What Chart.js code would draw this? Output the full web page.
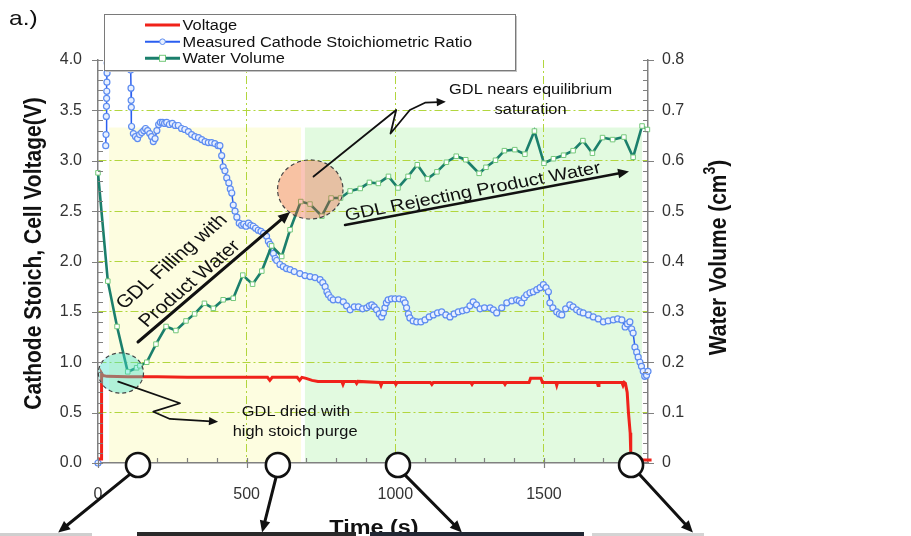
<!DOCTYPE html>
<html><head><meta charset="utf-8">
<style>html,body{margin:0;padding:0;background:#fff;overflow:hidden}#wrap{width:911px;height:536px;position:relative}canvas{display:block}</style>
<script src="https://cdn.jsdelivr.net/npm/chart.js@4.4.1/dist/chart.umd.min.js"></script>
</head><body><div id="wrap"><canvas id="c" width="911" height="536"></canvas></div>
<script>
// ---------------- data ----------------
const seriesNames = ['Voltage', 'Measured Cathode Stoichiometric Ratio', 'Water Volume'];

const voltageTime = [0, 11, 12, 16, 30, 100, 200, 300, 400, 500, 570, 578, 586, 670, 678, 686, 700, 720, 740,
  820, 824, 828, 866, 870, 874, 948, 952, 956, 998, 1002, 1006, 1118, 1123, 1128, 1254, 1258, 1262,
  1365, 1369, 1373, 1450, 1455, 1490, 1495, 1540, 1543, 1546, 1679, 1682, 1685, 1762, 1766, 1770,
  1774, 1780, 1784, 1790, 1792, 1794, 1862];
const voltageValues = [0.04, 0.04, 0.89, 0.87, 0.86, 0.855, 0.855, 0.85, 0.85, 0.85, 0.85, 0.82, 0.85, 0.85, 0.82, 0.85, 0.84, 0.82, 0.81,
  0.81, 0.78, 0.81, 0.81, 0.79, 0.81, 0.80, 0.77, 0.80, 0.80, 0.78, 0.80, 0.80, 0.78, 0.80, 0.80, 0.78, 0.80,
  0.80, 0.78, 0.80, 0.80, 0.84, 0.84, 0.80, 0.80, 0.77, 0.80, 0.80, 0.77, 0.80, 0.80, 0.77, 0.80,
  0.79, 0.70, 0.51, 0.30, 0.10, 0.03, 0.03];

const stoichTime = [0, 13, 26, 27, 28, 28.5, 29, 29.5, 30, 30.5, 31, 36, 60, 90, 108, 110, 111, 111.5, 112, 113,
  119, 126, 133, 140, 147, 154, 160, 167, 174, 180, 186, 192, 198, 204, 210, 217, 224, 231, 240, 250,
  260, 270, 281, 292, 304, 315, 326, 338, 349, 360, 371, 382, 393, 404, 410, 416, 421, 427, 433, 440,
  445, 450, 455, 461, 467, 475, 483, 490, 498, 506, 514, 522, 530, 539, 548, 557, 567, 573, 579, 585,
  590, 596, 601, 612, 623, 634, 646, 660, 679, 696, 713, 730, 747, 756, 764, 770, 775, 783, 791, 808,
  825, 836, 848, 862, 876, 890, 904, 913, 921, 929, 937, 946, 954, 960, 965, 970, 976, 987, 999, 1013,
  1027, 1033, 1038, 1044, 1049, 1060, 1072, 1086, 1100, 1114, 1128, 1142, 1156, 1170, 1184, 1198, 1212, 1226, 1240, 1251,
  1262, 1273, 1285, 1300, 1319, 1330, 1341, 1358, 1375, 1392, 1408, 1417, 1425, 1434, 1442, 1453, 1464, 1476, 1487, 1498,
  1507, 1515, 1520, 1530, 1543, 1552, 1560, 1573, 1587, 1598, 1610, 1621, 1632, 1650, 1666, 1683, 1700, 1716, 1733, 1748,
  1762, 1773, 1781, 1789, 1795, 1800, 1806, 1812, 1817, 1823, 1828, 1834, 1839, 1845, 1850];
const stoichValues = [0.0, null, 3.15, 3.26, 3.44, 3.54, 3.62, 3.69, 3.78, 3.87, 3.97, 4.6, 5.2, 4.9, 4.4, 3.90, 3.72, 3.60, 3.53, 3.34,
  3.27, 3.24, 3.22, 3.26, 3.28, 3.30, 3.32, 3.30, 3.27, 3.24, 3.19, 3.22, 3.30, 3.36, 3.38, 3.38, 3.37, 3.38, 3.36, 3.37,
  3.35, 3.35, 3.32, 3.31, 3.29, 3.26, 3.24, 3.23, 3.21, 3.19, 3.18, 3.18, 3.17, 3.15, 3.15, 3.05, 2.94, 2.90, 2.83, 2.78,
  2.72, 2.68, 2.56, 2.50, 2.44, 2.38, 2.36, 2.37, 2.35, 2.38, 2.36, 2.35, 2.33, 2.31, 2.30, 2.28, 2.25, 2.20, 2.17, 2.10,
  2.08, 2.03, 2.01, 1.97, 1.95, 1.93, 1.92, 1.90, 1.88, 1.86, 1.85, 1.84, 1.82, 1.79, 1.75, 1.70, 1.67, 1.64, 1.62, 1.62,
  1.60, 1.56, 1.52, 1.55, 1.55, 1.53, 1.54, 1.56, 1.57, 1.55, 1.52, 1.48, 1.45, 1.49, 1.54, 1.59, 1.62, 1.63, 1.63, 1.63,
  1.62, 1.59, 1.54, 1.48, 1.44, 1.41, 1.40, 1.40, 1.42, 1.45, 1.47, 1.49, 1.50, 1.47, 1.45, 1.48, 1.50, 1.51, 1.52, 1.56,
  1.60, 1.57, 1.53, 1.54, 1.54, 1.52, 1.49, 1.54, 1.59, 1.61, 1.62, 1.61, 1.59, 1.64, 1.67, 1.69, 1.70, 1.72, 1.74, 1.77,
  1.74, 1.70, 1.59, 1.54, 1.50, 1.48, 1.47, 1.53, 1.57, 1.55, 1.52, 1.50, 1.49, 1.47, 1.45, 1.43, 1.40, 1.41, 1.42, 1.43,
  1.42, 1.35, 1.38, 1.40, 1.33, 1.29, 1.15, 1.10, 1.05, 1.00, 0.96, 0.91, 0.86, 0.87, 0.91];

const waterTime = [0, 33, 64, 100, 130, 141, 164, 195, 229, 262, 296, 325, 358, 388, 421, 455, 487, 520, 551, 584,
  618, 646, 682, 713, 753, 784, 816, 848, 882, 913, 943, 977, 1009, 1043, 1074, 1108, 1140, 1172, 1205, 1237,
  1282, 1305, 1337, 1367, 1402, 1436, 1468, 1500, 1532, 1566, 1598, 1631, 1663, 1697, 1731, 1769, 1800, 1830, 1848];
const waterValues = [0.576, 0.361, 0.271, 0.181, 0.189, 0.193, 0.200, 0.236, 0.271, 0.263, 0.282, 0.296, 0.317, 0.307, 0.324, 0.327, 0.373, 0.355, 0.381, 0.431,
  0.410, 0.463, 0.519, 0.514, 0.490, 0.526, 0.526, 0.540, 0.545, 0.557, 0.555, 0.569, 0.546, 0.569, 0.592, 0.564, 0.578, 0.597, 0.609, 0.602,
  0.575, 0.587, 0.601, 0.620, 0.622, 0.613, 0.659, 0.595, 0.604, 0.611, 0.620, 0.640, 0.615, 0.646, 0.642, 0.647, 0.607, 0.669, 0.662];

const xTickValues = [0, 500, 1000, 1500];
const xTickLabels = ['0', '500', '1000', '1500'];
const leftTickValues = [0, 0.5, 1, 1.5, 2, 2.5, 3, 3.5, 4];
const leftTickLabels = ['0.0', '0.5', '1.0', '1.5', '2.0', '2.5', '3.0', '3.5', '4.0'];
const rightTickValues = [0, 0.1, 0.2, 0.3, 0.4, 0.5, 0.6, 0.7, 0.8];
const rightTickLabels = ['0', '0.1', '0.2', '0.3', '0.4', '0.5', '0.6', '0.7', '0.8'];

// phase bands (time in s, top in left-axis units)
const phaseStart = [37, 696];
const phaseEnd = [683, 1830];
const phaseTop = 3.33;

// ---------------- styles ----------------
const FONT = "'Liberation Sans', Arial, sans-serif";
const SX = 1.17;   // horizontal stretch of the reference picture
const GRID = 'rgb(178,214,62)';
const AXIS = '#808080';

const zip = (xs, ys) => xs.map((x, i) => ({ x: x, y: ys[i] }));

function stext(ctx, s, x, y, font, align, rot, color, base) {
  ctx.save();
  ctx.translate(x, y);
  ctx.scale(SX, 1);
  ctx.rotate(rot || 0);
  ctx.font = font;
  ctx.fillStyle = color || '#111';
  ctx.textAlign = align || 'center';
  ctx.textBaseline = base || 'middle';
  ctx.fillText(s, 0, 0);
  ctx.restore();
}
function arrow(ctx, pts, w, head) {
  ctx.save();
  ctx.strokeStyle = '#111'; ctx.fillStyle = '#111';
  ctx.lineWidth = w; ctx.lineJoin = 'round'; ctx.lineCap = 'round';
  const n = pts.length;
  const [x2, y2] = pts[n - 1], [x1, y1] = pts[n - 2];
  const a = Math.atan2(y2 - y1, x2 - x1);
  ctx.beginPath();
  ctx.moveTo(pts[0][0], pts[0][1]);
  for (let i = 1; i < n - 1; i++) ctx.lineTo(pts[i][0], pts[i][1]);
  ctx.lineTo(x2 - Math.cos(a) * head * 0.7, y2 - Math.sin(a) * head * 0.7);
  ctx.stroke();
  ctx.beginPath();
  ctx.moveTo(x2, y2);
  ctx.lineTo(x2 - head * Math.cos(a - 0.42), y2 - head * Math.sin(a - 0.42));
  ctx.lineTo(x2 - head * Math.cos(a + 0.42), y2 - head * Math.sin(a + 0.42));
  ctx.closePath(); ctx.fill();
  ctx.restore();
}

// annotation anchors in data units (time s, left-axis value)
const ellipseCyan = { t: 77, v: 0.893, rt: 76, rv: 0.20 };
const ellipseSalmon = { t: 714, v: 2.715, rt: 110, rv: 0.293 };
const fillArrow = [[134.5, 1.201], [646, 2.491]];
const rejectArrow = [[831, 2.362], [1786, 2.893]];
const nearsZig = [[725, 2.843], [1003, 3.504], [984, 3.270], [1049, 3.504], [1100, 3.576], [1170, 3.586]];
const driedZig = [[68, 0.807], [276, 0.593], [186, 0.509], [242, 0.437], [404, 0.410]];
const bottomCircles = [134.5, 605, 1009, 1793];
const bottomArrows = [[[108, -0.11], [-134, -0.69]], [[599, -0.14], [552, -0.69]], [[1033, -0.12], [1224, -0.69]], [[1820, -0.11], [2001, -0.69]]];

const backgroundPlugin = {
  id: 'bands',
  beforeDraw(chart) {
    const { ctx, chartArea: ca } = chart;
    const x = chart.scales.x, y = chart.scales.y;
    const cols = ['rgb(253,253,224)', 'rgb(226,250,224)'];
    ctx.save();
    for (let i = 0; i < phaseStart.length; i++) {
      const x0 = x.getPixelForValue(phaseStart[i]), x1 = x.getPixelForValue(phaseEnd[i]);
      const y0 = y.getPixelForValue(phaseTop);
      ctx.fillStyle = cols[i];
      ctx.fillRect(x0, y0, x1 - x0, ca.bottom - y0);
    }
    ctx.restore();
  }
};

const overlayPlugin = {
  id: 'overlay',
  afterDatasetsDraw(chart) {
    const { ctx } = chart;
    const X = v => chart.scales.x.getPixelForValue(v), Y = v => chart.scales.y.getPixelForValue(v);
    const ell = (e, fill) => {
      const cx = X(e.t), cy = Y(e.v);
      const rx = X(e.t + e.rt) - cx, ry = cy - Y(e.v + e.rv);
      ctx.save();
      ctx.beginPath(); ctx.ellipse(cx, cy, rx, ry, 0, 0, Math.PI * 2);
      ctx.fillStyle = fill; ctx.fill();
      ctx.setLineDash([4, 3]); ctx.strokeStyle = '#444'; ctx.lineWidth = 1.2; ctx.stroke();
      ctx.restore();
    };
    ell(ellipseCyan, 'rgba(70,225,205,0.42)');
    ell(ellipseSalmon, 'rgba(240,70,35,0.32)');
  },
  afterDraw(chart) {
    const { ctx, chartArea: ca } = chart;
    const xs = chart.scales.x, ys = chart.scales.y, y2 = chart.scales.y2;
    const X = v => xs.getPixelForValue(v), Y = v => ys.getPixelForValue(v);
    const P = p => [X(p[0]), Y(p[1])];

    // tick marks
    ctx.save();
    ctx.strokeStyle = AXIS; ctx.lineWidth = 1.2;
    ctx.beginPath();
    for (let t = 0; t <= xs.max + 1e-6; t += 100) {
      const px = Math.round(X(t)) + 0.5;
      const major = t % 500 === 0;
      ctx.moveTo(px, ca.bottom + (major ? 5 : 0)); ctx.lineTo(px, ca.bottom - 5);
    }
    for (let k = 0; k <= 40; k++) {
      const py = Math.round(Y(k / 10)) + 0.5;
      const major = k % 5 === 0;
      ctx.moveTo(ca.left - (major ? 6 : 0), py); ctx.lineTo(ca.left + 5, py);
    }
    for (let k = 0; k <= 40; k++) {
      const py = Math.round(y2.getPixelForValue(k * 0.02)) + 0.5;
      const major = k % 5 === 0;
      ctx.moveTo(ca.right + (major ? 6 : 0), py); ctx.lineTo(ca.right - 5, py);
    }
    ctx.stroke();
    ctx.restore();

    // axis titles
    stext(ctx, 'Cathode Stoich, Cell Voltage(V)', 34, (ca.top + ca.bottom) / 2 - 8, 'bold 21px ' + FONT, 'center', -Math.PI / 2, '#111');
    // right title with superscript
    ctx.save();
    ctx.translate(719, (ca.top + ca.bottom) / 2 - 4);
    ctx.scale(SX, 1);
    ctx.rotate(-Math.PI / 2);
    ctx.fillStyle = '#111';
    ctx.textBaseline = 'middle';
    ctx.textAlign = 'left';
    const mainF = 'bold 21px ' + FONT, supF = 'bold 14px ' + FONT;
    ctx.font = mainF; const w1 = ctx.measureText('Water Volume (cm').width, w3 = ctx.measureText(')').width;
    ctx.font = supF; const w2 = ctx.measureText('3').width;
    let sx = -(w1 + w2 + w3) / 2;
    ctx.font = mainF; ctx.fillText('Water Volume (cm', sx, 0); sx += w1;
    ctx.font = supF; ctx.fillText('3', sx, -7); sx += w2;
    ctx.font = mainF; ctx.fillText(')', sx, 0);
    ctx.restore();
    stext(ctx, 'Time (s)', 374, 534, 'bold 20px ' + FONT, 'center', 0, '#111', 'alphabetic');
    stext(ctx, 'a.)', 9, 25, '21px ' + FONT, 'left', 0, '#111', 'alphabetic');

    // arrows and labels
    arrow(ctx, fillArrow.map(P), 3, 13);
    arrow(ctx, rejectArrow.map(P), 2.6, 12);
    arrow(ctx, nearsZig.map(P), 1.8, 10);
    arrow(ctx, driedZig.map(P), 1.8, 10);

    const aFill = -Math.atan(Math.tan(40.5 * Math.PI / 180) * SX);
    const aRej = -Math.atan(Math.tan(10.7 * Math.PI / 180) * SX);
    let p = P([249, 1.995]); stext(ctx, 'GDL Filling with', p[0], p[1], '18px ' + FONT, 'center', aFill, '#111');
    p = P([309, 1.777]); stext(ctx, 'Product Water', p[0], p[1], '18px ' + FONT, 'center', aFill, '#111');
    p = P([1261, 2.69]); stext(ctx, 'GDL Rejecting Product Water', p[0], p[1], '17px ' + FONT, 'center', aRej, '#111');
    p = P([1455, 3.698]); stext(ctx, 'GDL nears equilibrium', p[0], p[1], '14px ' + FONT, 'center', 0, '#111');
    p = P([1455, 3.504]); stext(ctx, 'saturation', p[0], p[1], '14px ' + FONT, 'center', 0, '#111');
    p = P([666, 0.509]); stext(ctx, 'GDL dried with', p[0], p[1], '14px ' + FONT, 'center', 0, '#111');
    p = P([663, 0.311]); stext(ctx, 'high stoich purge', p[0], p[1], '14px ' + FONT, 'center', 0, '#111');

    // bottom markers
    bottomArrows.forEach(a => arrow(ctx, a.map(P), 3, 13));
    bottomCircles.forEach(t => {
      ctx.save();
      ctx.beginPath(); ctx.arc(X(t), Y(-0.02), 12, 0, Math.PI * 2);
      ctx.fillStyle = '#fff'; ctx.fill();
      ctx.lineWidth = 2.6; ctx.strokeStyle = '#111'; ctx.stroke();
      ctx.restore();
    });
    ctx.save();
    ctx.fillStyle = '#cfcfcf'; ctx.fillRect(0, 533, 92, 3);
    ctx.fillStyle = '#2a2a2a'; ctx.fillRect(137, 532, 219, 4);
    ctx.fillStyle = '#222834'; ctx.fillRect(370, 532, 214, 4);
    ctx.fillStyle = '#d4d4d4'; ctx.fillRect(592, 533, 112, 3);
    ctx.restore();

    // legend
    const ds = chart.data.datasets;
    ctx.save();
    ctx.fillStyle = '#c4c4c4'; ctx.fillRect(106, 16, 411, 56);
    ctx.fillStyle = '#fff'; ctx.fillRect(104.5, 14.5, 411, 56);
    ctx.strokeStyle = '#7a7a7a'; ctx.lineWidth = 1; ctx.strokeRect(104.5, 14.5, 411, 56);
    const rows = [25, 41.7, 58.3];
    ds.forEach((d, i) => {
      const yy = rows[i];
      ctx.strokeStyle = d.borderColor; ctx.lineWidth = i === 1 ? 2 : 3;
      ctx.beginPath(); ctx.moveTo(145, yy); ctx.lineTo(180, yy); ctx.stroke();
      if (i === 1) {
        ctx.beginPath(); ctx.arc(162.5, yy, 2.8, 0, Math.PI * 2);
        ctx.fillStyle = d.pointBackgroundColor; ctx.fill();
        ctx.lineWidth = 1; ctx.strokeStyle = d.pointBorderColor; ctx.stroke();
      } else if (i === 2) {
        ctx.fillStyle = '#fff'; ctx.fillRect(159.5, yy - 3, 6, 6);
        ctx.lineWidth = 1; ctx.strokeStyle = d.pointBorderColor; ctx.strokeRect(159.5, yy - 3, 6, 6);
      }
      stext(ctx, d.label, 182.5, yy + 1, '14px ' + FONT, 'left', 0, '#111');
    });
    ctx.restore();
  }
};

const clip = { left: 8, right: 8, top: 0, bottom: 8 };
const fixTicks = vals => s => { s.ticks = vals.map(v => ({ value: v })); };

new Chart(document.getElementById('c'), {
  type: 'line',
  data: {
    datasets: [
      { label: seriesNames[0], data: zip(voltageTime, voltageValues), yAxisID: 'y', order: 1,
        borderColor: '#f0221a', borderWidth: 3, pointRadius: 0, tension: 0, clip: clip },
      { label: seriesNames[1], data: zip(stoichTime, stoichValues), yAxisID: 'y', order: 2,
        borderColor: '#2a5ef0', borderWidth: 1.5, pointRadius: 3, pointStyle: 'circle',
        pointBorderColor: '#5d8cf0', pointBackgroundColor: '#e8f0ff', pointBorderWidth: 1.2, tension: 0, clip: clip },
      { label: seriesNames[2], data: zip(waterTime, waterValues), yAxisID: 'y2', order: 0,
        borderColor: '#1b7f6c', borderWidth: 2.6, pointRadius: 3.2, pointStyle: 'rect',
        pointBorderColor: '#74c87a', pointBackgroundColor: '#ffffff', pointBorderWidth: 1, tension: 0, clip: clip }
    ]
  },
  options: {
    responsive: false,
    animation: false,
    events: [],
    layout: { padding: { top: 60, left: 0, right: 0, bottom: 0 } },
    plugins: { legend: { display: false }, tooltip: { enabled: false } },
    scales: {
      x: {
        type: 'linear', position: 'bottom', min: 0, max: 1850,
        afterFit: s => { s.height = 73; },
        afterBuildTicks: fixTicks(xTickValues),
        ticks: { padding: 22, color: '#333', font: { family: FONT, size: 16 },
          callback: (v, i) => xTickLabels[i] },
        grid: { drawTicks: false, lineWidth: 1, color: c => (c.tick && c.tick.value > 0) ? GRID : 'rgba(0,0,0,0)' },
        border: { color: AXIS, width: 1.5, dash: [8, 3, 2, 3] }
      },
      y: {
        type: 'linear', position: 'left', min: 0, max: 4,
        afterFit: s => { s.width = 98; },
        afterBuildTicks: fixTicks(leftTickValues),
        ticks: { padding: 16, color: '#333', font: { family: FONT, size: 16 },
          callback: (v, i) => leftTickLabels[i] },
        grid: { drawTicks: false, lineWidth: 1, color: c => (c.tick && c.tick.value > 0 && c.tick.value < 4) ? GRID : 'rgba(0,0,0,0)' },
        border: { color: AXIS, width: 1.5, dash: [8, 3, 2, 3] }
      },
      y2: {
        type: 'linear', position: 'right', min: 0, max: 0.8,
        afterFit: s => { s.width = 263; },
        afterBuildTicks: fixTicks(rightTickValues),
        ticks: { padding: 14, color: '#333', font: { family: FONT, size: 16 },
          callback: (v, i) => rightTickLabels[i] },
        grid: { display: false, drawTicks: false },
        border: { color: AXIS, width: 1.5 }
      }
    }
  },
  plugins: [backgroundPlugin, overlayPlugin]
});
</script></body></html>
